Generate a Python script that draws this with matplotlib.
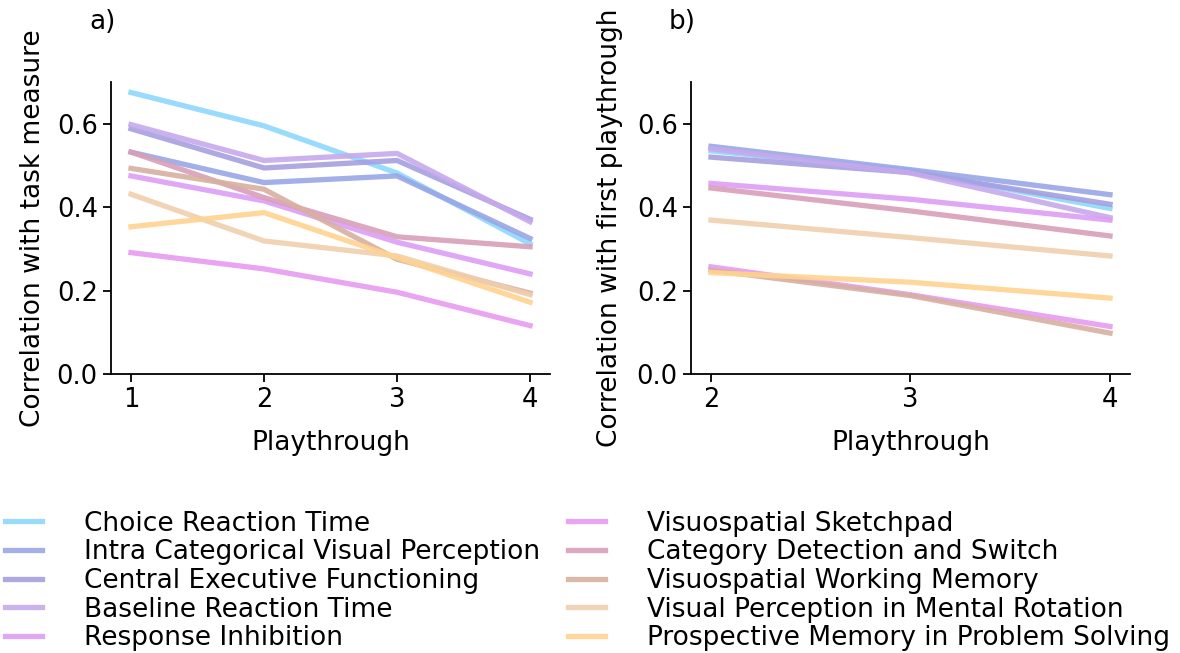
import matplotlib
matplotlib.use("Agg")
import matplotlib.pyplot as plt

# task names and colours
tasks = ["Choice Reaction Time", "Intra Categorical Visual Perception",
         "Central Executive Functioning", "Baseline Reaction Time",
         "Response Inhibition", "Visuospatial Sketchpad",
         "Category Detection and Switch", "Visuospatial Working Memory",
         "Visual Perception in Mental Rotation",
         "Prospective Memory in Problem Solving"]
colors = ["#8dd8fc", "#98a6e6", "#a59fe0", "#c6a9ec", "#dc9ef6",
          "#e79af1", "#d89fb8", "#d8b0a0", "#f0cfae", "#ffd390"]

# a) correlation with task measure, playthroughs 1-4
play_a = [1, 2, 3, 4]
task_corr = [
    [0.675, 0.595, 0.482, 0.312],
    [0.532, 0.459, 0.475, 0.325],
    [0.588, 0.494, 0.512, 0.371],
    [0.598, 0.512, 0.529, 0.365],
    [0.475, 0.415, 0.316, 0.240],
    [0.291, 0.252, 0.196, 0.116],
    [0.532, 0.423, 0.329, 0.305],
    [0.493, 0.443, 0.275, 0.194],
    [0.431, 0.319, 0.283, 0.190],
    [0.353, 0.387, 0.279, 0.172],
]

# b) correlation with first playthrough, playthroughs 2-4
play_b = [2, 3, 4]
first_corr = [
    [0.535, 0.487, 0.397],
    [0.546, 0.490, 0.430],
    [0.520, 0.483, 0.407],
    [0.540, 0.482, 0.375],
    [0.457, 0.419, 0.369],
    [0.257, 0.190, 0.114],
    [0.446, 0.391, 0.331],
    [0.249, 0.188, 0.098],
    [0.369, 0.327, 0.283],
    [0.243, 0.220, 0.182],
]

plt.rcParams['font.family'] = ['DejaVu Sans']
plt.rcParams['font.size'] = 19

fig = plt.figure(figsize=(11.8, 6.53), dpi=100)
ax1 = fig.add_axes([0.0941, 0.4273, 0.372, 0.447])
ax2 = fig.add_axes([0.5856, 0.4273, 0.372, 0.447])

for i in range(len(tasks)):
    ax1.plot(play_a, task_corr[i], color=colors[i], lw=3.8, alpha=0.9,
             label=tasks[i])
    ax2.plot(play_b, first_corr[i], color=colors[i], lw=3.8, alpha=0.9)

for ax in (ax1, ax2):
    ax.set_ylim(0, 0.7)
    ax.set_yticks([0.0, 0.2, 0.4, 0.6])
    ax.spines['top'].set_visible(False)
    ax.spines['right'].set_visible(False)
    ax.spines['left'].set_linewidth(1.3)
    ax.spines['bottom'].set_linewidth(1.3)
    ax.tick_params(width=1.3, length=6, labelsize=18.5)
    ax.set_xlabel("Playthrough", labelpad=12)

ax1.set_xticks(play_a)
ax2.set_xticks(play_b)
ax1.set_ylabel("Correlation with task measure", labelpad=8)
ax2.set_ylabel("Correlation with first playthrough", labelpad=10)

fig.text(0.076, 0.967, "a)", ha='left', va='center')
fig.text(0.567, 0.967, "b)", ha='left', va='center')

fig.legend(loc='upper left', bbox_to_anchor=(0.004, 0.218), ncol=2,
           frameon=False, handlelength=1.4, handletextpad=1.6,
           columnspacing=1.05, labelspacing=0.1, borderaxespad=0,
           borderpad=0)

fig.savefig("out.png", dpi=100)
